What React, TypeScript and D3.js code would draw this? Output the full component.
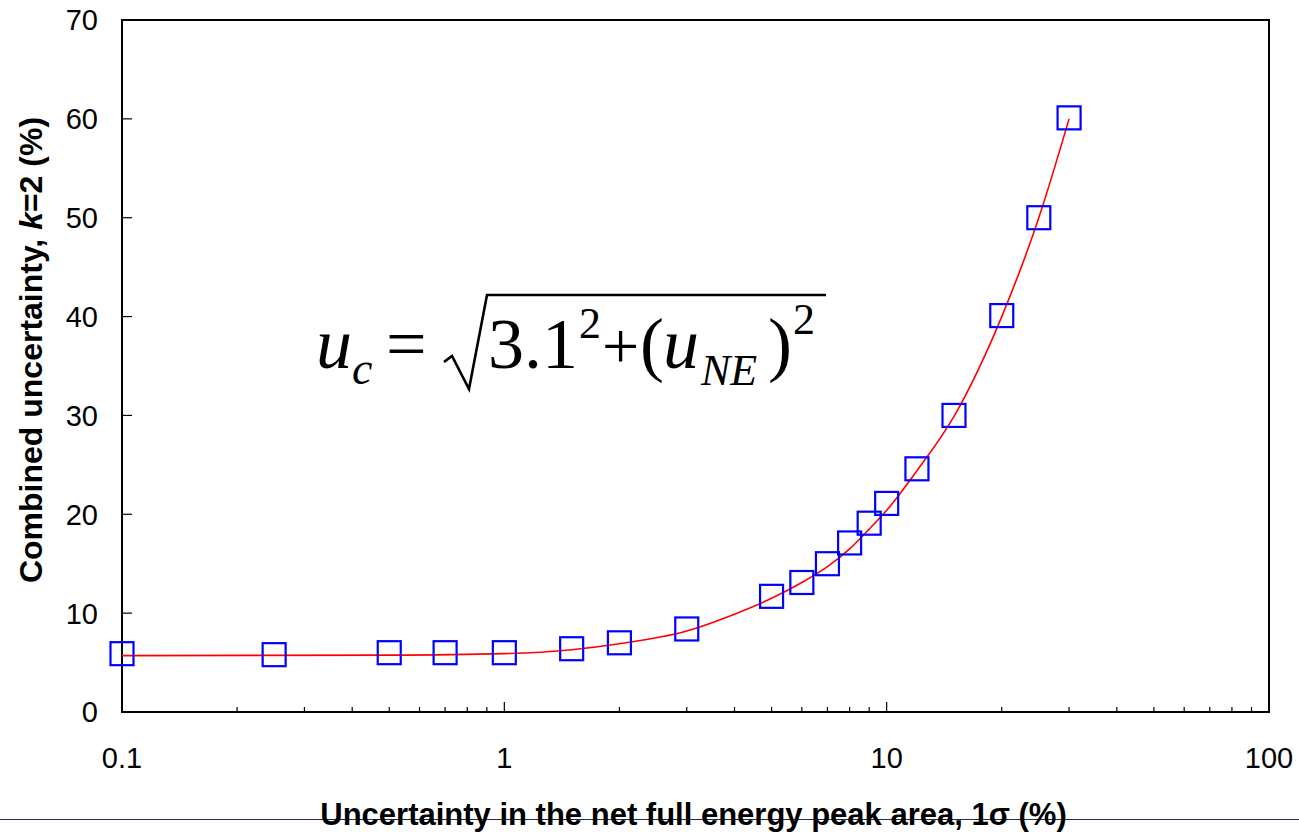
import * as d3 from "d3";
import { useEffect, useRef } from "react";

// measured points (x: uncertainty in net peak area, y: combined uncertainty k=2)
const peakUnc = [0.1, 0.25, 0.5, 0.7, 1, 1.5, 2, 3, 5, 6, 7, 8, 9, 10, 12, 15, 20, 25, 30];
const combUnc = [5.9, 5.8, 6.0, 6.0, 6.0, 6.4, 7.0, 8.4, 11.7, 13.1, 15.0, 17.1, 19.1, 21.1, 24.6, 30.0, 40.1, 50.0, 60.1];

// fitted red curve
const fitX = [0.1, 0.5, 1, 1.5, 2, 3, 4, 5, 6, 7, 8, 9, 10, 12, 15, 20, 25, 30];
const fitY = [5.7, 5.75, 5.9, 6.3, 6.9, 8.2, 9.9, 11.5, 13.1, 14.7, 16.5, 18.5, 20.4, 24.4, 29.9, 40.0, 50.0, 60.0];

const xTicks = [0.1, 1, 10, 100];
const yTicks = [0, 10, 20, 30, 40, 50, 60, 70];

const W = 1299;
const H = 832;

function App() {
  const ref = useRef<SVGSVGElement>(null);

  useEffect(() => {
    const svg = d3.select(ref.current);
    svg.selectAll("*").remove();

    const left = 122, right = 1269, top = 20, bottom = 712;

    const x = d3.scaleLog().domain([0.1, 100]).range([left, right]);
    const y = d3.scaleLinear().domain([0, 70]).range([bottom, top]);

    svg.append("rect").attr("width", W).attr("height", H).attr("fill", "#fff");

    // thin line across the bottom of the page
    svg.append("line")
      .attr("x1", 0).attr("x2", W)
      .attr("y1", 819.5).attr("y2", 819.5)
      .attr("stroke", "#1f2a4f").attr("stroke-width", 1);

    // y ticks (inward) and labels
    const yg = svg.append("g");
    yg.selectAll("line").data(yTicks.slice(1, -1)).join("line")
      .attr("x1", left).attr("x2", left + 10)
      .attr("y1", d => y(d)).attr("y2", d => y(d))
      .attr("stroke", "#000").attr("stroke-width", 1.2);
    yg.selectAll("text").data(yTicks).join("text")
      .attr("x", 98).attr("y", d => y(d))
      .attr("dy", "0.36em")
      .attr("text-anchor", "end")
      .attr("font-family", "Liberation Sans, Arial, sans-serif")
      .attr("font-size", 29)
      .text(d => d);

    // x ticks: majors and minors pointing up
    const minors: number[] = [];
    [0.1, 1, 10].forEach(dec => { for (let k = 2; k <= 9; k++) minors.push(dec * k); });
    const xg = svg.append("g");
    xg.selectAll("line.minor").data(minors).join("line").attr("class", "minor")
      .attr("x1", d => x(d)).attr("x2", d => x(d))
      .attr("y1", bottom).attr("y2", bottom - 5)
      .attr("stroke", "#000").attr("stroke-width", 1.2);
    xg.selectAll("line.major").data(xTicks.slice(1, -1)).join("line").attr("class", "major")
      .attr("x1", d => x(d)).attr("x2", d => x(d))
      .attr("y1", bottom).attr("y2", bottom - 10)
      .attr("stroke", "#000").attr("stroke-width", 1.2);
    xg.selectAll("text").data(xTicks).join("text")
      .attr("x", d => x(d)).attr("y", 768)
      .attr("text-anchor", "middle")
      .attr("font-family", "Liberation Sans, Arial, sans-serif")
      .attr("font-size", 29)
      .text(d => String(d));

    // frame
    svg.append("rect")
      .attr("x", left).attr("y", top)
      .attr("width", right - left).attr("height", bottom - top)
      .attr("fill", "none").attr("stroke", "#000").attr("stroke-width", 2);

    // fitted curve
    const fit = fitX.map((v, i) => [v, fitY[i]] as [number, number]);
    const line = d3.line<[number, number]>()
      .x(d => x(d[0])).y(d => y(d[1]))
      .curve(d3.curveMonotoneX);
    svg.append("path").attr("d", line(fit))
      .attr("fill", "none").attr("stroke", "#ff0000").attr("stroke-width", 1.6);

    // square markers
    const s = 23;
    svg.append("g").selectAll("rect").data(peakUnc).join("rect")
      .attr("x", d => x(d) - s / 2)
      .attr("y", (d, i) => y(combUnc[i]) - s / 2)
      .attr("width", s).attr("height", s)
      .attr("fill", "none").attr("stroke", "#0000ff").attr("stroke-width", 2.2);

    // axis titles
    svg.append("text")
      .attr("x", (left + right) / 2 - 2).attr("y", 825)
      .attr("text-anchor", "middle")
      .attr("font-family", "Liberation Sans, Arial, sans-serif")
      .attr("font-size", 31).attr("font-weight", "bold")
      .text("Uncertainty in the net full energy peak area, 1σ (%)");

    const yt = svg.append("text")
      .attr("transform", `translate(42,350) rotate(-90)`)
      .attr("text-anchor", "middle")
      .attr("font-family", "Liberation Sans, Arial, sans-serif")
      .attr("font-size", 32).attr("font-weight", "bold");
    yt.append("tspan").text("Combined uncertainty, ");
    yt.append("tspan").attr("font-style", "italic").text("k");
    yt.append("tspan").text("=2 (%)");

    // equation  u_c = sqrt(3.1^2 + (u_NE)^2)
    const eq = svg.append("g")
      .attr("font-family", "Liberation Serif, Times New Roman, serif")
      .attr("fill", "#000");
    const put = (t: string, px: number, py: number, size: number, italic = false) =>
      eq.append("text").attr("x", px).attr("y", py)
        .attr("font-size", size)
        .attr("font-style", italic ? "italic" : "normal")
        .text(t);
    put("u", 316, 368, 72, true);
    put("c", 352, 384, 46, true);
    put("=", 386, 368, 72);
    eq.append("path")
      .attr("d", "M444,362 L452,356 L469,389 L487,295 L826,295")
      .attr("fill", "none").attr("stroke", "#000").attr("stroke-width", 2.6)
      .attr("stroke-linejoin", "miter");
    put("3.1", 488, 368, 72);
    put("2", 579, 338, 44);
    put("+", 602, 368, 66);
    put("(", 640, 368, 72);
    put("u", 663, 368, 72, true);
    put("NE", 701, 385, 44, true);
    put(")", 768, 368, 72);
    put("2", 793, 334, 44);
  }, []);

  return (
    <svg ref={ref} width={W} height={H}
      style={{ position: "absolute", left: 0, top: 0, display: "block" }} />
  );
}

export default App;
